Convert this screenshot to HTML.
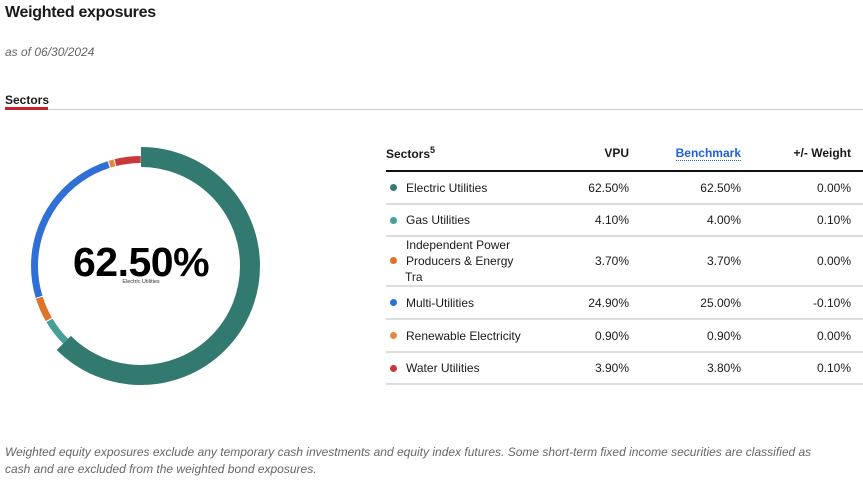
<!DOCTYPE html>
<html><head><style>
body{margin:0;width:863px;height:480px;background:#fff;font-family:"Liberation Sans",sans-serif;color:#1a1a1a;position:relative;overflow:hidden}
.a{position:absolute}
table{border-collapse:collapse}
td{font-size:12px;height:30px;border-bottom:2px solid #ddd;padding:0}
.r{text-align:right}
.d{display:inline-block;width:7px;height:7px;border-radius:50%;margin:0 9px 1px 4px;vertical-align:middle}
</style></head><body>
<div class="a" style="left:5px;top:4px;font-size:16px;font-weight:bold;letter-spacing:-0.3px">Weighted exposures</div>
<div class="a" style="left:5px;top:45px;font-size:12px;font-style:italic;color:#666">as of 06/30/2024</div>
<div class="a" style="left:5px;top:93px;font-size:12px;font-weight:bold">Sectors</div>
<div class="a" style="left:5px;top:107px;width:43px;height:3px;background:#c8202f"></div>
<div class="a" style="left:48px;top:109px;width:815px;height:1px;background:#ccc"></div>
<svg class="a" style="left:0;top:0" width="380" height="400">
<g transform="rotate(-90 141 266)" fill="none">
<circle cx="141" cy="266" r="109" stroke="#327a70" stroke-width="20" stroke-dasharray="428 1000"/>
<circle cx="141" cy="266" r="106.5" stroke="#45a097" stroke-width="7" stroke-dasharray="26.4 1000" stroke-dashoffset="-418.2"/>
<circle cx="141" cy="266" r="106.5" stroke="#e07328" stroke-width="7" stroke-dasharray="23.8 1000" stroke-dashoffset="-445.7"/>
<circle cx="141" cy="266" r="106.5" stroke="#2f6fd6" stroke-width="7" stroke-dasharray="165.6 1000" stroke-dashoffset="-470.4"/>
<circle cx="141" cy="266" r="106.5" stroke="#e58a3b" stroke-width="7" stroke-dasharray="5 1000" stroke-dashoffset="-637"/>
<circle cx="141" cy="266" r="106.5" stroke="#c8373a" stroke-width="7" stroke-dasharray="25.5 1000" stroke-dashoffset="-643.1"/>
</g>
<text x="141" y="276" text-anchor="middle" font-family="Liberation Sans" font-weight="bold" font-size="41" fill="#000" letter-spacing="-0.5">62.50%</text>
<text x="141" y="283" text-anchor="middle" font-family="Liberation Sans" font-size="5.5" fill="#333">Electric Utilities</text>
</svg>
<table class="a" style="left:386px;top:136px;width:477px">
<tr style="height:35px"><td style="font-weight:bold;font-size:12px;border-bottom:2px solid #111;width:185px;height:33px">Sectors<sup style="font-size:9px">5</sup></td>
<td class="r" style="font-weight:bold;border-bottom:2px solid #111;width:58px;height:33px">VPU</td>
<td class="r" style="font-weight:bold;border-bottom:2px solid #111;width:112px;height:33px"><span style="color:#1f5fe0;border-bottom:1px dotted #1f5fe0">Benchmark</span></td>
<td class="r" style="font-weight:bold;border-bottom:2px solid #111;padding-right:12px;height:33px">+/- Weight</td></tr>
<tr><td style="height:31px"><span class="d" style="background:#327a70"></span>Electric Utilities</td><td class="r">62.50%</td><td class="r">62.50%</td><td class="r" style="padding-right:12px">0.00%</td></tr>
<tr><td><span class="d" style="background:#45a097"></span>Gas Utilities</td><td class="r">4.10%</td><td class="r">4.00%</td><td class="r" style="padding-right:12px">0.10%</td></tr>
<tr><td style="height:47px;line-height:16px"><span class="d" style="background:#e07328;float:left;margin-top:20px"></span><div style="margin-left:19px">Independent Power<br>Producers &amp; Energy<br>Tra</div></td><td class="r">3.70%</td><td class="r">3.70%</td><td class="r" style="padding-right:12px">0.00%</td></tr>
<tr><td style="height:31px"><span class="d" style="background:#2f6fd6"></span>Multi-Utilities</td><td class="r">24.90%</td><td class="r">25.00%</td><td class="r" style="padding-right:12px">-0.10%</td></tr>
<tr><td style="height:31px"><span class="d" style="background:#e58a3b"></span>Renewable Electricity</td><td class="r">0.90%</td><td class="r">0.90%</td><td class="r" style="padding-right:12px">0.00%</td></tr>
<tr><td><span class="d" style="background:#c8373a"></span>Water Utilities</td><td class="r">3.90%</td><td class="r">3.80%</td><td class="r" style="padding-right:12px">0.10%</td></tr>
</table>
<div class="a" style="left:5px;top:444px;width:830px;font-size:12px;font-style:italic;color:#666;line-height:17px">Weighted equity exposures exclude any temporary cash investments and equity index futures. Some short-term fixed income securities are classified as cash and are excluded from the weighted bond exposures.</div>
</body></html>
